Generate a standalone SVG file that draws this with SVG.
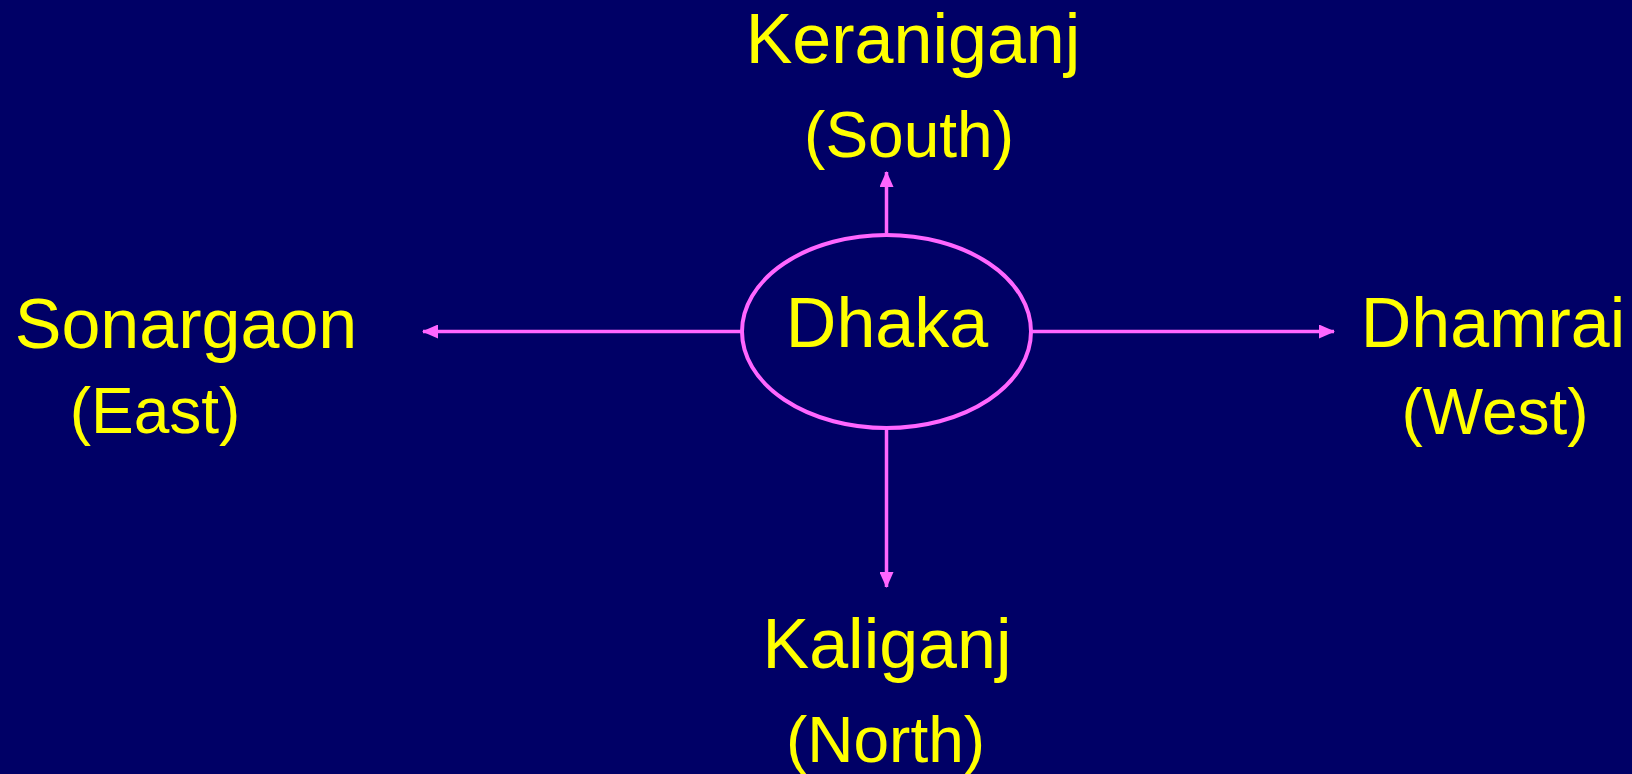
<svg xmlns="http://www.w3.org/2000/svg" width="1632" height="774" viewBox="0 0 1632 774">
<style>
.t{font-family:"Liberation Sans",Arial,sans-serif;font-size:70px;fill:#FFFF00}
.s{font-family:"Liberation Sans",Arial,sans-serif;font-size:64px;fill:#FFFF00}
.c{stroke:#FF66FF;stroke-width:3.5;fill:none}
</style>
<defs>
<marker id="ah" markerUnits="userSpaceOnUse" markerWidth="16" markerHeight="14" refX="15" refY="7" orient="auto">
<path d="M0,0 L16,7 L0,14 Z" fill="#FF66FF"/>
</marker>
</defs>
<rect width="1632" height="774" fill="#000066"/>
<g id="connectors">
<line class="c" x1="886.5" y1="233" x2="886.5" y2="172" marker-end="url(#ah)"/>
<line class="c" x1="886.5" y1="430" x2="886.5" y2="587" marker-end="url(#ah)"/>
<line class="c" x1="741" y1="331.5" x2="423" y2="331.5" marker-end="url(#ah)"/>
<line class="c" x1="1032" y1="331.5" x2="1334" y2="331.5" marker-end="url(#ah)"/>
</g>
<g id="dhaka">
<ellipse cx="886.5" cy="331.5" rx="144.5" ry="96.5" fill="#000066" stroke="#FF66FF" stroke-width="4"/>
<text class="t" x="887" y="347" text-anchor="middle">Dhaka</text>
</g>
<g id="keraniganj">
<text class="t" x="913" y="63" text-anchor="middle">Keraniganj</text>
<text class="s" x="909" y="157" text-anchor="middle">(South)</text>
</g>
<g id="sonargaon">
<text class="t" x="186" y="348" text-anchor="middle">Sonargaon</text>
<text class="s" x="155" y="433" text-anchor="middle">(East)</text>
</g>
<g id="dhamrai">
<text class="t" x="1493" y="347" text-anchor="middle">Dhamrai</text>
<text class="s" x="1495" y="434" text-anchor="middle">(West)</text>
</g>
<g id="kaliganj">
<text class="t" x="887" y="668" text-anchor="middle">Kaliganj</text>
<text class="s" x="885.5" y="762" text-anchor="middle">(North)</text>
</g>
</svg>
